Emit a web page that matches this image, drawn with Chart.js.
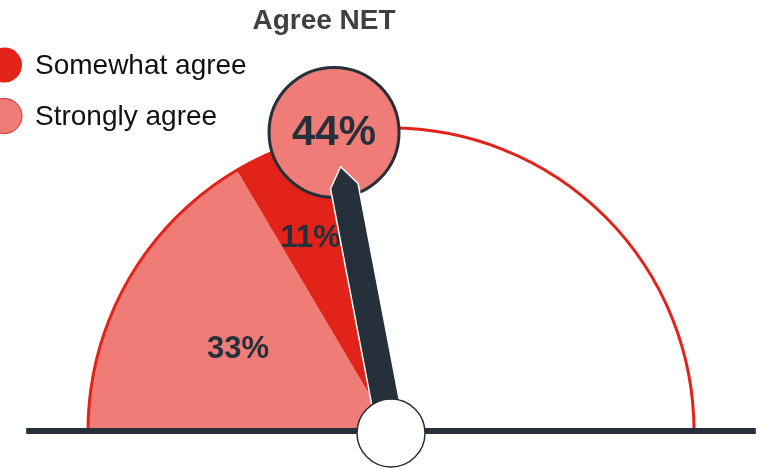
<!DOCTYPE html>
<html>
<head>
<meta charset="utf-8">
<script src="https://cdn.jsdelivr.net/npm/chart.js@4/dist/chart.umd.min.js"></script>
<style>
  html, body { margin: 0; padding: 0; background: #fff; }
  #wrap { width: 767px; height: 469px; }
</style>
</head>
<body>
<div id="wrap"><canvas id="gauge" width="767" height="469"></canvas></div>
<script>
'use strict';

// data
let categories = [ 'Strongly agree', 'Somewhat agree' ];
let values = [ 33, 11 ];
let legendOrder = [ 'Somewhat agree', 'Strongly agree' ];
let chartTitle = 'Agree NET';

let pink = '#F07C77';
let red = '#E2231A';
let dark = '#25303B';
let font = '"Liberation Sans", Arial, sans-serif';

let net = values.reduce( ( a, b ) => a + b, 0 );
let rest = 100 - net;

// label radius as a share of the outer radius, plus a small angle nudge
let labelRadius = [ 0.57, 0.685 ];
let labelNudge = [ -0.03, -0.035 ];

let gaugeDeco = {
  id: 'gaugeDeco',
  afterDatasetsDraw( chart ) {
    let ctx = chart.ctx;
    let arcs = chart.getDatasetMeta( 0 ).data;
    let cx = arcs[0].x;
    let cy = arcs[0].y;
    let r = arcs[0].outerRadius;

    ctx.save();

    // red outline of the half circle
    ctx.beginPath();
    ctx.arc( cx, cy, r - 1, Math.PI, 2 * Math.PI );
    ctx.strokeStyle = red;
    ctx.lineWidth = 3;
    ctx.stroke();

    // slice labels
    ctx.fillStyle = dark;
    ctx.font = 'bold 31px ' + font;
    ctx.textAlign = 'center';
    ctx.textBaseline = 'middle';
    for( let i = 0; i < categories.length; i++ ) {
      let a = ( arcs[i].startAngle + arcs[i].endAngle ) / 2 + labelNudge[i];
      let lr = r * labelRadius[i];
      ctx.fillText( values[i] + '%', cx + lr * Math.cos( a ), cy + lr * Math.sin( a ) );
    }

    // base line
    ctx.beginPath();
    ctx.moveTo( cx - r * 1.2, cy );
    ctx.lineTo( cx + r * 1.2, cy );
    ctx.strokeStyle = dark;
    ctx.lineWidth = 6;
    ctx.stroke();

    // value bubble
    let ang = Math.PI + ( net / 100 ) * Math.PI;
    let bx = cx + r * Math.cos( ang );
    let by = cy + r * Math.sin( ang );
    ctx.beginPath();
    ctx.arc( bx, by, 65, 0, 2 * Math.PI );
    ctx.fillStyle = pink;
    ctx.fill();
    ctx.strokeStyle = dark;
    ctx.lineWidth = 3;
    ctx.stroke();
    ctx.fillStyle = dark;
    ctx.font = 'bold 42px ' + font;
    ctx.fillText( net + '%', bx, by + 1 );

    // needle
    let ux = Math.cos( ang );
    let uy = Math.sin( ang );
    let px = -uy;
    let py = ux;
    let hw = 14;
    let sh = r * 0.82;
    let tip = r * 0.885;
    ctx.beginPath();
    ctx.moveTo( cx + px * hw, cy + py * hw );
    ctx.lineTo( cx + ux * sh + px * hw, cy + uy * sh + py * hw );
    ctx.lineTo( cx + ux * tip, cy + uy * tip );
    ctx.lineTo( cx + ux * sh - px * hw, cy + uy * sh - py * hw );
    ctx.lineTo( cx - px * hw, cy - py * hw );
    ctx.closePath();
    ctx.fillStyle = dark;
    ctx.fill();
    ctx.strokeStyle = '#fff';
    ctx.lineWidth = 1.5;
    ctx.stroke();

    // hub
    ctx.beginPath();
    ctx.arc( cx, cy + 2, 34, 0, 2 * Math.PI );
    ctx.fillStyle = '#fff';
    ctx.fill();
    ctx.strokeStyle = dark;
    ctx.lineWidth = 1.5;
    ctx.stroke();

    // title
    ctx.fillStyle = '#404040';
    ctx.font = 'bold 28px ' + font;
    ctx.textAlign = 'center';
    ctx.fillText( chartTitle, 324, 21 );

    // legend
    ctx.font = '28px ' + font;
    ctx.textAlign = 'left';
    for( let i = 0; i < legendOrder.length; i++ ) {
      let y = 65 + i * 51;
      let idx = categories.indexOf( legendOrder[i] );
      ctx.beginPath();
      ctx.arc( 4.5, y, 17.5, 0, 2 * Math.PI );
      ctx.fillStyle = idx === 0 ? pink : red;
      ctx.fill();
      if( idx === 0 ) {
        ctx.strokeStyle = red;
        ctx.lineWidth = 1;
        ctx.stroke();
      }
      ctx.fillStyle = '#111';
      ctx.fillText( legendOrder[i], 35, y + 1 );
    }

    ctx.restore();
  }
};

let ctx = document.getElementById( 'gauge' ).getContext( '2d' );

let gauge = new Chart( ctx, {
  type: 'pie',
  data: {
    labels: categories.concat( [ '' ] ),
    datasets: [{
      data: values.concat( [ rest ] ),
      backgroundColor: [ pink, red, '#ffffff' ],
      borderWidth: 0,
      hoverOffset: 0
    }]
  },
  options: {
    responsive: false,
    animation: false,
    rotation: -90,
    circumference: 180,
    layout: {
      padding: { left: 87, right: 72, top: 127, bottom: 38 }
    },
    plugins: {
      legend: { display: false },
      tooltip: { enabled: false },
      title: { display: false }
    }
  },
  plugins: [ gaugeDeco ]
} );
</script>
</body>
</html>
